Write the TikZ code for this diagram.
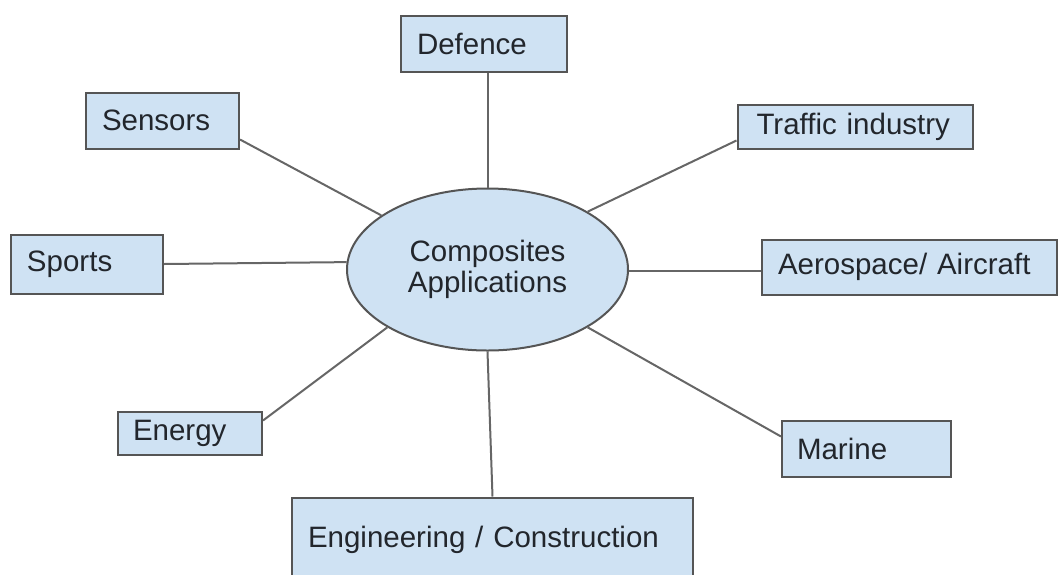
\documentclass[tikz,border=0pt]{standalone}
\usepackage{fontspec}
\setmainfont{Liberation Sans}
\usetikzlibrary{shapes.geometric}
\definecolor{boxfill}{HTML}{CFE2F3}
\definecolor{boxline}{HTML}{555555}
\definecolor{conn}{HTML}{666666}
\definecolor{txt}{HTML}{22262C}
\begin{document}
\begin{tikzpicture}[x=1pt,y=-1pt,
  every node/.style={font=\fontsize{29.5}{32}\selectfont, text=txt},
  appbox/.style={draw=boxline, line width=2pt, fill=boxfill, rectangle,
    inner xsep=16pt, inner ysep=0pt, align=left},
  hub/.style={draw=boxline, line width=2pt, fill=boxfill, ellipse,
    minimum width=281pt, minimum height=162pt, inner sep=0pt, align=center},
  link/.style={draw=conn, line width=2pt}]
\useasboundingbox (0,0) rectangle (1058,574);

\node[hub] (comp) at (487.5,269.5) {Composites\\[-1pt]Applications};

\node[appbox, text width=134pt, minimum height=56pt] (defence) at (484,43.5) {Defence};
\node[appbox, text width=121pt, minimum height=56pt] (sensors) at (162.5,120.5) {Sensors};
\node[appbox, text width=120pt, minimum height=59pt] (sports) at (87,264) {Sports};
\node[appbox, text width=197pt, minimum height=44pt, inner xsep=19pt] (traffic) at (855,126.5) {Traffic industry};
\node[appbox, text width=263pt, minimum height=55pt] (aero) at (909.5,267) {Aerospace/ Aircraft};
\node[appbox, text width=114pt, minimum height=43pt, inner xsep=15pt] (energy) at (190,433) {Energy};
\node[appbox, text width=139pt, minimum height=56pt, inner xsep=15pt] (marine) at (866.5,448.5) {Marine};
\node[appbox, text width=369pt, minimum height=85pt] (engr) at (492.5,540) {Engineering / Construction};

\draw[link] (comp.north) -- (comp.north |- defence.south);
\draw[link] (comp.153) -- ([yshift=10pt]sensors.south east);
\draw[link] (comp.177) -- (sports.east);
\draw[link] (comp.30) -- ([yshift=9pt]traffic.south west);
\draw[link] ([yshift=-4pt]aero.west) coordinate (aeroend) -- (aeroend -| comp.east);
\draw[link] (comp.210) -- ([yshift=-10pt]energy.north east);
\draw[link] (comp.330) -- ([yshift=-17pt]marine.north west);
\draw[link] (comp.south) -- (engr.north);
\end{tikzpicture}
\end{document}
